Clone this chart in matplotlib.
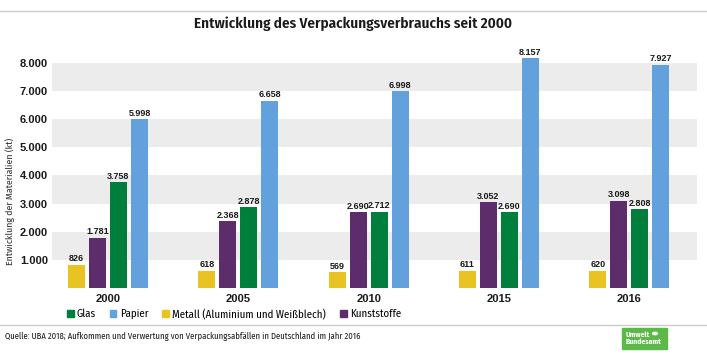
import matplotlib.pyplot as plt
from matplotlib.patches import Rectangle, Patch, Circle
import numpy as np

plt.rcParams['font.family'] = ['Fira Sans Condensed', 'DejaVu Sans']
NUM = ['Liberation Sans', 'DejaVu Sans']

years = ["2000", "2005", "2010", "2015", "2016"]
metall = [826, 618, 569, 611, 620]
kunststoffe = [1781, 2368, 2690, 3052, 3098]
glas = [3758, 2878, 2712, 2690, 2808]
papier = [5998, 6658, 6998, 8157, 7927]

series = [
    ("Metall (Aluminium und Weißblech)", metall, "#e8c322"),
    ("Kunststoffe", kunststoffe, "#5c2d6a"),
    ("Glas", glas, "#007f3c"),
    ("Papier", papier, "#62a1db"),
]

def fmt(v):
    return f"{v:,}".replace(",", ".")

fig = plt.figure(figsize=(7.07, 3.54), dpi=100)
W, H = 707, 354

# axes placed in pixel terms (0 at y=288, 1000 per ~28.1 px)
ax = fig.add_axes([52 / W, 1 - 288 / H, 645 / W, (288 - 54.4) / H])
ax.set_xlim(-0.43, 4.52)
ax.set_ylim(0, 8300)

# grey bands
for lo in [1000, 3000, 5000, 7000]:
    ax.axhspan(lo, lo + 1000, color="#ececec", lw=0, zorder=0)

x = np.arange(len(years))
w = 0.132
step = 0.161
offsets = (np.arange(4) - 1.5) * step
for (name, vals, col), off in zip(series, offsets):
    ax.bar(x + off, vals, width=w, color=col, zorder=2)
    for xi, v in zip(x, vals):
        ax.text(xi + off, v + 50, fmt(v), ha="center", va="bottom",
                fontsize=6.5, fontweight="bold", color="#1a1a1a", family=NUM)

ax.set_yticks(range(1000, 9000, 1000))
ax.set_yticklabels([fmt(v) for v in range(1000, 9000, 1000)],
                   fontsize=8, fontweight="bold", color="#1a1a1a", family=NUM)
ax.set_xticks(x)
ax.set_xticklabels(years, fontsize=8, fontweight="bold", color="#1a1a1a", family=NUM)
ax.tick_params(length=0, axis="both")
ax.tick_params(axis="y", pad=3)
ax.tick_params(axis="x", pad=4)
for s in ax.spines.values():
    s.set_visible(False)

fig.text(10 / W, 1 - 201 / H, "Entwicklung der Materialien (kt)", rotation=90,
         ha="center", va="center", fontsize=7, color="#333333")

fig.text(353 / W, 1 - 24 / H, "Entwicklung des Verpackungsverbrauchs seit 2000",
         ha="center", va="center", fontsize=10.9, fontweight="semibold", color="#1a1a1a")

# separator lines
fig.add_artist(plt.Line2D([0, 1], [1 - 11 / H, 1 - 11 / H], color="#cccccc", lw=1))
fig.add_artist(plt.Line2D([0, 1], [1 - 325 / H, 1 - 325 / H], color="#cccccc", lw=1))

# legend
handles = [Patch(color=c, label=n) for n, _, c in
           [series[2], series[3], series[0], series[1]]]
fig.legend(handles=handles, loc="center left", bbox_to_anchor=(67 / W, 1 - 314 / H),
           ncol=4, frameon=False, fontsize=7.8, handlelength=0.6, handleheight=0.6,
           handletextpad=0.3, columnspacing=1.3, borderpad=0, borderaxespad=0)

fig.text(5 / W, 1 - 336 / H,
         "Quelle: UBA 2018; Aufkommen und Verwertung von Verpackungsabfällen in Deutschland im Jahr 2016",
         ha="left", va="center", fontsize=6.2, color="#1a1a1a")

# logo box
fig.add_artist(Rectangle((622 / W, 1 - 349 / H), 45 / W, 21 / H,
                         transform=fig.transFigure, color="#5cb848"))
fig.text(626 / W, 1 - 338.5 / H, "Umwelt\nBundesamt", ha="left", va="center",
         fontsize=5.5, fontweight="bold", color="white", linespacing=1.0)
fig.add_artist(Circle((655 / W, 1 - 333.5 / H), 2.3 / W,
                      transform=fig.transFigure, color="white"))

fig.savefig("out.png", dpi=100)
